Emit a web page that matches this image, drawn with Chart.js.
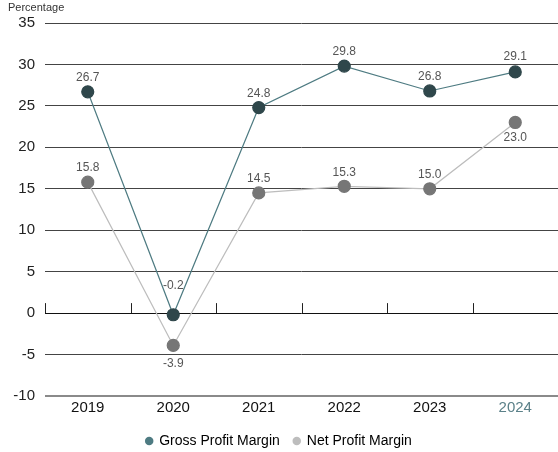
<!DOCTYPE html>
<html>
<head>
<meta charset="utf-8">
<script src="https://cdn.jsdelivr.net/npm/chart.js@4"></script>
<style>
  html, body { margin: 0; padding: 0; background: #fff; }
  #wrap { width: 558px; height: 452px; position: relative; }
</style>
</head>
<body>
<div id="wrap"><canvas id="chart" width="558" height="452"></canvas></div>
<script>
// ── Data ─────────────────────────────────────────────────────
const years       = ['2019', '2020', '2021', '2022', '2023', '2024'];
const grossMargin = [26.7, -0.2, 24.8, 29.8, 26.8, 29.1];
const netMargin   = [15.8, -3.9, 14.5, 15.3, 15.0, 23.0];
const yTicks      = [35, 30, 25, 20, 15, 10, 5, 0, -5, -10];

// vertical offset of each value label from its point (px)
const grossDy = [-14, -29, -14, -14, -14, -15];
const netDy   = [-14, 18, -14, -14, -14, 15];

const FONT = '"Liberation Sans", Arial, sans-serif';

// ── Plugin: value labels, zero-line ticks, axis caption ──────
const extras = {
  id: 'extras',
  afterDatasetsDraw(chart) {
    const ctx = chart.ctx;
    const x = chart.scales.x, y = chart.scales.y;

    // short tick marks on the zero line between categories
    const y0 = y.getPixelForValue(0);
    const step = x.getPixelForValue(1) - x.getPixelForValue(0);
    ctx.save();
    ctx.strokeStyle = '#222';
    ctx.lineWidth = 1;
    for (let i = 0; i < years.length; i++) {
      const px = Math.round(x.getPixelForValue(i) - step / 2) + 0.5;
      ctx.beginPath();
      ctx.moveTo(px, y0);
      ctx.lineTo(px, y0 - 10);
      ctx.stroke();
    }

    // value labels
    ctx.font = '12px ' + FONT;
    ctx.fillStyle = '#555';
    ctx.textAlign = 'center';
    ctx.textBaseline = 'middle';
    [[grossMargin, grossDy, 0], [netMargin, netDy, 1]].forEach(([vals, dys, di]) => {
      const meta = chart.getDatasetMeta(di);
      vals.forEach((v, i) => {
        const pt = meta.data[i];
        ctx.fillText(v.toFixed(1), pt.x, pt.y + dys[i]);
      });
    });

    // axis caption
    ctx.font = '11px ' + FONT;
    ctx.fillStyle = '#333';
    ctx.textAlign = 'left';
    ctx.fillText('Percentage', 8, 8);
    ctx.restore();
  }
};

new Chart(document.getElementById('chart'), {
  type: 'line',
  data: {
    labels: years,
    datasets: [
      {
        label: 'Gross Profit Margin',
        data: grossMargin,
        borderColor: '#4e7b82',
        borderWidth: 1.2,
        pointBackgroundColor: '#2f474b',
        pointBorderColor: '#2f474b',
        pointRadius: 6,
        tension: 0
      },
      {
        label: 'Net Profit Margin',
        data: netMargin,
        borderColor: '#bdbdbd',
        borderWidth: 1.2,
        pointBackgroundColor: '#767676',
        pointBorderColor: '#767676',
        pointRadius: 6,
        tension: 0
      }
    ]
  },
  options: {
    responsive: false,
    animation: false,
    layout: { autoPadding: false, padding: { top: 23, right: 0, left: 0, bottom: -6 } },
    plugins: {
      legend: {
        position: 'bottom',
        labels: {
          font: { family: FONT, size: 14 },
          color: '#333',
          usePointStyle: true,
          pointStyle: 'circle',
          boxWidth: 6,
          boxHeight: 6,
          padding: 14,
          generateLabels: chart => chart.data.datasets.map((ds, i) => ({
            text: ds.label,
            fillStyle: ds.borderColor,
            strokeStyle: 'transparent',
            lineWidth: 0,
            pointStyle: 'circle',
            datasetIndex: i
          }))
        }
      },
      tooltip: { enabled: false }
    },
    scales: {
      x: {
        offset: true,
        border: { display: false },
        grid: { display: false, drawTicks: false, tickLength: 0 },
        ticks: {
          font: { family: FONT, size: 15 },
          color: ctx => ctx.index === years.length - 1 ? '#5b8189' : '#111',
          padding: 3
        }
      },
      y: {
        min: -10,
        max: 35,
        afterBuildTicks: s => { s.ticks = yTicks.slice().reverse().map(v => ({ value: v })); },
        afterFit: s => { s.width = 45; },
        border: { display: false },
        grid: {
          drawTicks: false,
          color: ctx => ctx.tick.value === -10 ? '#8a8a8a' : (ctx.tick.value === 0 ? '#111' : '#444'),
          lineWidth: ctx => ctx.tick.value === -10 ? 2 : 1
        },
        ticks: {
          font: { family: FONT, size: 15 },
          color: '#222',
          padding: 10
        }
      }
    }
  },
  plugins: [extras]
});
</script>
</body>
</html>
